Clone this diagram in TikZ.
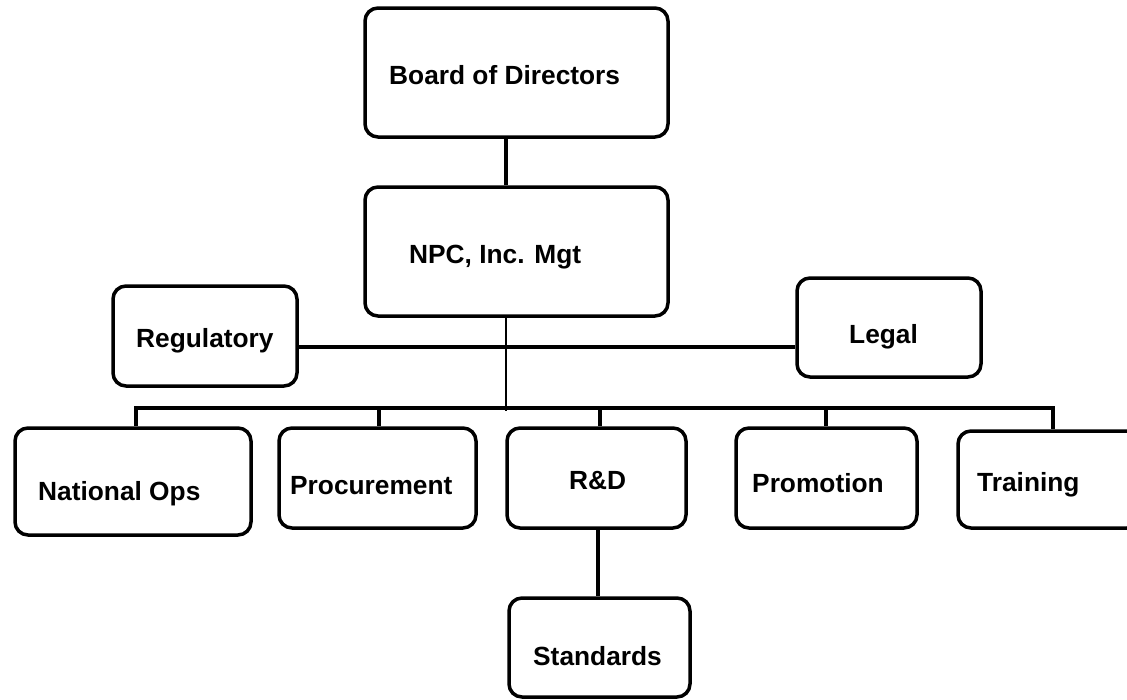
\documentclass[tikz,border=0pt]{standalone}
\usepackage{fontspec}
\newfontfamily\lab{Liberation Sans}
\begin{document}
\begin{tikzpicture}[x=1pt,y=-1pt,
  box/.style={draw=black, line width=3.5pt, rounded corners=13pt, fill=white,
    inner sep=0pt, minimum width=#1},
  lbl/.style={anchor=base west, inner sep=0pt,
    font=\lab\bfseries\fontsize{26.3}{31}\selectfont},
  link/.style={draw=black, line width=3.5pt},
  thinlink/.style={draw=black, line width=2.5pt}]
\useasboundingbox (0,0) rectangle (1127,699);
\clip (0,0) rectangle (1127,699);

% reference points for the connector runs
\coordinate (trunk) at (506,0);
\coordinate (side) at (0,347);
\coordinate (bus) at (0,408);
\coordinate (d1) at (136,408);
\coordinate (d2) at (379,408);
\coordinate (d3) at (600,408);
\coordinate (d4) at (826,408);
\coordinate (d5) at (1053,408);
\coordinate (sd) at (598,0);

% boxes
\node[box=303pt, minimum height=129pt] (board)  at (516.5,72.5) {};
\node[box=303pt, minimum height=129pt] (npc)    at (516.5,251.5) {};
\node[box=184pt, minimum height=100pt] (reg)    at (205,336) {};
\node[box=184pt, minimum height=99pt]  (legal)  at (889,327.5) {};
\node[box=236pt, minimum height=107pt] (natops) at (133,481.5) {};
\node[box=197pt, minimum height=100pt] (proc)   at (377.5,478) {};
\node[box=179pt, minimum height=100pt] (rnd)    at (596.5,478) {};
\node[box=181pt, minimum height=100pt] (promo)  at (826.5,478) {};
\node[box=182pt, minimum height=97pt]  (train)  at (1049,479.5) {};
\node[box=181pt, minimum height=99pt]  (std)    at (599.5,647.5) {};

% connectors
\path[link] (board.south -| trunk) -- (npc.north -| trunk);
\path[thinlink] (npc.south -| trunk) -- ([yshift=-3pt]bus -| trunk);
\path[link] (reg.east |- side) -- (legal.west |- side);
\path[link, line cap=rect] (d1) -- (d5);
\path[link] (d1) -- (d1 |- natops.north);
\path[link] (d2) -- (d2 |- proc.north);
\path[link] (d3) -- (d3 |- rnd.north);
\path[link] (d4) -- (d4 |- promo.north);
\path[link] (d5) -- (d5 |- train.north);
\path[link] (rnd.south -| sd) -- (std.north -| sd);

% labels
\node[lbl] (boardtxt) at (389,84)  {Board of Directors};
\node[lbl] (npctxt)   at (409,263) {NPC, Inc. Mgt};
\node[lbl] (regtxt)   at (136,347) {Regulatory};
\node[lbl] (legaltxt) at (849,343) {Legal};
\node[lbl] (nattxt)   at (38,500)  {National Ops};
\node[lbl] (proctxt)  at (290,494) {Procurement};
\node[lbl] (rndtxt)   at (569,489) {R\&D};
\node[lbl] (promotxt) at (752,492) {Promotion};
\node[lbl] (traintxt) at (977,491) {Training};
\node[lbl] (stdtxt)   at (533,665) {Standards};
\end{tikzpicture}
\end{document}
